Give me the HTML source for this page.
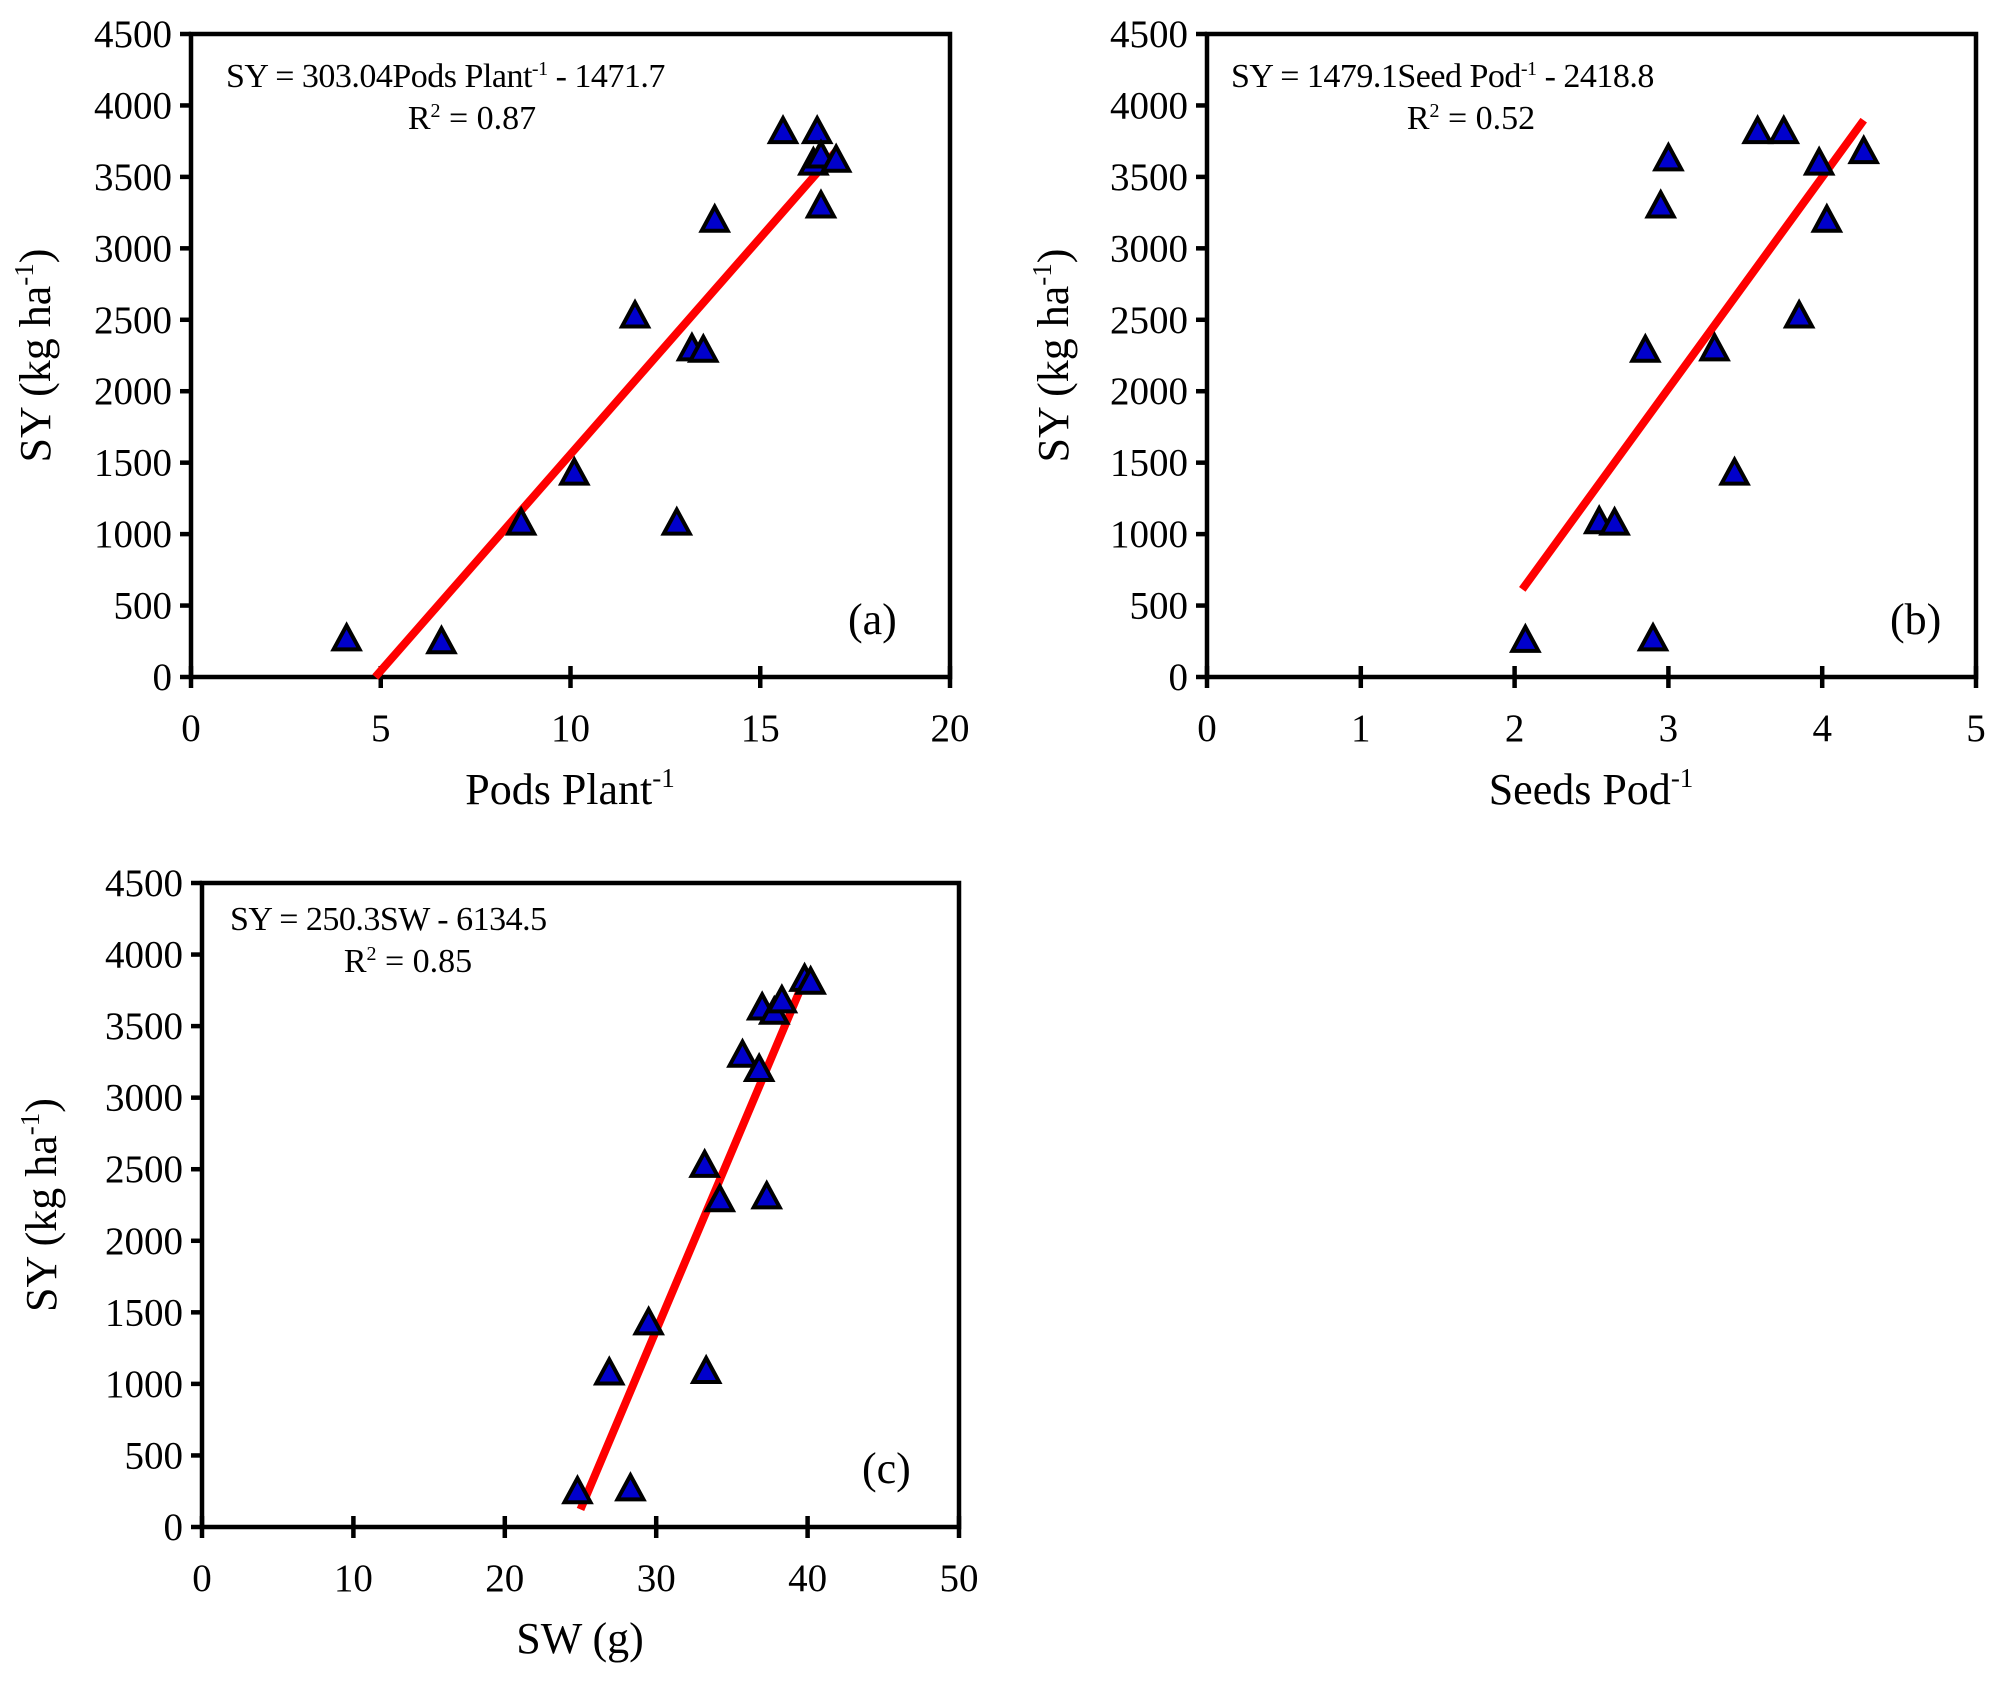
<!DOCTYPE html>
<html><head><meta charset="utf-8"><style>
html,body{margin:0;padding:0;background:#fff;}
svg, svg text{font-family:"Liberation Serif","Times New Roman",serif;}
svg{display:block;}
</style></head><body>
<svg id="root" width="2000" height="1685" viewBox="0 0 2000 1685" xmlns="http://www.w3.org/2000/svg" font-family="Liberation Serif, serif"></svg>
<script>
// Panel (a)
const aX = [4.1,6.6,8.7,10.1,11.7,12.8,13.2,13.5,13.8,15.6,16.4,16.5,16.6,16.6,17.0];
const aY = [270,250,1080,1430,2530,1080,2300,2290,3200,3820,3600,3820,3650,3300,3620];
const aFit = [303.04,-1471.7];
const aFitRange = [4.857,17.0];
const aXTicks = [0,5,10,15,20];
// Panel (b)
const bX = [2.07,2.55,2.65,2.85,2.9,2.95,3.0,3.3,3.43,3.58,3.75,3.85,3.98,4.03,4.27];
const bY = [260,1090,1080,2290,270,3300,3630,2300,1430,3820,3820,2530,3600,3200,3680];
const bFit = [1479.1,-2418.8];
const bFitRange = [2.05,4.27];
const bXTicks = [0,1,2,3,4,5];
// Panel (c)
const cX = [24.8,26.9,28.3,29.5,33.2,33.3,34.2,35.7,36.8,37.0,37.3,37.8,38.3,39.8,40.2];
const cY = [250,1080,270,1430,2530,1090,2290,3300,3200,3630,2310,3600,3680,3830,3810];
const cFit = [250.3,-6134.5];
const cFitRange = [25,40];
const cXTicks = [0,10,20,30,40,50];
const yTicks = [0,500,1000,1500,2000,2500,3000,3500,4000,4500];

const NS="http://www.w3.org/2000/svg";
const root=document.getElementById('root');
function mk(tag,attrs,parent){const e=document.createElementNS(NS,tag);for(const k in attrs)e.setAttribute(k,attrs[k]);if(tag==='text')e.setAttribute('font-family','Liberation Serif, serif');(parent||root).appendChild(e);return e;}

function panel(id,L,R,T,B,xs,ys,fit,fr,xt,eqHTML,eqX,eqY,r2,r2X,tag,tagX,tagY,xTitleHTML,xTitleX,xTitleY,yTitleX){
  const g=mk('g',{});
  
  
  const xmax=xt[xt.length-1], ymax=4500;
  const sx=v=>L+(v-xt[0])/(xmax-xt[0])*(R-L);
  const sy=v=>B-v/ymax*(B-T);
  const frame=mk('rect',{x:L,y:T,width:R-L,height:B-T,fill:'none',stroke:'#000','stroke-width':4.5},g);
  
  
  yTicks.forEach(v=>{
    const y=sy(v);
    const t=mk('line',{x1:L-11,x2:L,y1:y,y2:y,stroke:'#000','stroke-width':4.5},g);
    
    
    const tx=mk('text',{x:L-19,y:y+13,'font-size':39,'text-anchor':'end'},g);
    tx.textContent=v;
    
    
  });
  xt.forEach(v=>{
    const x=sx(v);
    const t=mk('line',{x1:x,x2:x,y1:B-11,y2:B+11,stroke:'#000','stroke-width':4.5},g);
    
    
    const tx=mk('text',{x:x,y:B+64,'font-size':39,'text-anchor':'middle'},g);
    tx.textContent=v;
    
    
  });
  const ln=mk('line',{x1:sx(fr[0]),y1:sy(fit[0]*fr[0]+fit[1]),x2:sx(fr[1]),y2:sy(fit[0]*fr[1]+fit[1]),stroke:'#ff0000','stroke-width':8},g);
  
  
  xs.forEach((xv,i)=>{
    const x=sx(xv),y=sy(ys[i]);
    const p=mk('polygon',{points:`${x},${y-13} ${x-13},${y+11} ${x+13},${y+11}`,fill:'#0000cc',stroke:'#000','stroke-width':4,'stroke-linejoin':'miter'},g);
    
    
  });
  const e=mk('text',{x:eqX,y:eqY,'font-size':34,'letter-spacing':-0.5},g);
  e.innerHTML=eqHTML;
  
  
  const r=mk('text',{x:r2X,y:eqY+42,'font-size':34,'text-anchor':'middle'},g);
  r.innerHTML='R<tspan font-size="20" dy="-12">2</tspan><tspan dy="12"> = '+r2+'</tspan>';
  
  
  const tg=mk('text',{x:tagX,y:tagY,'font-size':44},g);
  tg.textContent=tag;
  
  
  const xtl=mk('text',{x:xTitleX,y:xTitleY,'font-size':44,'text-anchor':'middle'},g);
  xtl.innerHTML=xTitleHTML;
  
  
  const cy=(T+B)/2;
  const ytl=mk('text',{x:0,y:0,'font-size':44,'text-anchor':'middle',transform:`translate(${yTitleX},${cy}) rotate(-90)`},g);
  ytl.innerHTML='SY (kg ha<tspan font-size="27" dy="-17">-1</tspan><tspan dy="17">)</tspan>';
  
  
}
const sup='<tspan font-size="20" dy="-12">-1</tspan>';
const xsup='<tspan font-size="27" dy="-17">-1</tspan>';
panel('a',191,950,34,677,aX,aY,aFit,aFitRange,aXTicks,'SY = 303.04Pods Plant'+sup+'<tspan dy="12"> - 1471.7</tspan>',226,87,'0.87',472,'(a)',848,634,'Pods Plant'+xsup,570,804,50);
panel('b',1207,1976,34,677,bX,bY,bFit,bFitRange,bXTicks,'SY = 1479.1Seed Pod'+sup+'<tspan dy="12"> - 2418.8</tspan>',1231,87,'0.52',1471,'(b)',1890,634,'Seeds Pod'+xsup,1591,804,1068);
panel('c',202,959,883,1527,cX,cY,cFit,cFitRange,cXTicks,'SY = 250.3SW - 6134.5',230,930,'0.85',408,'(c)',862,1483,'SW (g)',580,1653,56);
</script>
</body></html>
